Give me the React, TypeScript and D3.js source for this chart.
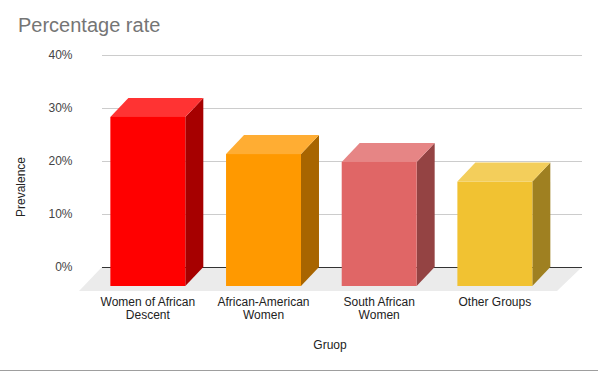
import React, { useEffect, useRef } from "react";
import * as d3 from "d3";

// chart data
const groups = [
  "Women of African Descent",
  "African-American Women",
  "South African Women",
  "Other Groups",
];
const groupLines = [
  ["Women of African", "Descent"],
  ["African-American", "Women"],
  ["South African", "Women"],
  ["Other Groups"],
];
const prevalence = [31.9, 24.9, 23.4, 19.7];
const yTicks = [0, 10, 20, 30, 40];
const frontColors = ["#ff0000", "#ff9900", "#e06666", "#f1c232"];
const topColors = ["#ff3333", "#ffad33", "#e68585", "#f3ce5b"];
const sideColors = ["#a60000", "#a86500", "#944343", "#9f8021"];

const App: React.FC = () => {
  const svgRef = useRef<SVGSVGElement>(null);

  useEffect(() => {
    const svg = d3.select(svgRef.current);
    svg.selectAll("*").remove();

    const font = "Arial, 'Liberation Sans', sans-serif";
    const wallLeft = 102;
    const wallRight = 582;
    // bar depth offset
    const dx = 18;
    const dy = 19;

    const yScale = d3.scaleLinear().domain([0, 40]).range([267, 55]);
    const xScale = d3
      .scaleBand<string>()
      .domain(groups)
      .range([90, 552.7])
      .paddingInner(0.352)
      .paddingOuter(0.176);

    // title
    svg
      .append("text")
      .attr("x", 18)
      .attr("y", 32)
      .attr("font-family", font)
      .attr("font-size", 20)
      .attr("fill", "#757575")
      .text("Percentage rate");

    // gridlines
    svg
      .selectAll(".grid")
      .data(yTicks.filter((t) => t > 0))
      .enter()
      .append("line")
      .attr("x1", wallLeft)
      .attr("x2", wallRight)
      .attr("y1", (d) => yScale(d) + 0.5)
      .attr("y2", (d) => yScale(d) + 0.5)
      .attr("stroke", "#cccccc")
      .attr("stroke-width", 1);

    // floor
    const y0 = yScale(0);
    svg
      .append("polygon")
      .attr(
        "points",
        [
          [wallLeft, y0],
          [wallRight, y0],
          [wallRight - 25, y0 + 24],
          [wallLeft - 23, y0 + 24],
        ]
          .map((p) => p.join(","))
          .join(" ")
      )
      .attr("fill", "#ebebeb");

    // base line
    svg
      .append("line")
      .attr("x1", wallLeft)
      .attr("x2", wallRight)
      .attr("y1", y0 + 0.5)
      .attr("y2", y0 + 0.5)
      .attr("stroke", "#333333")
      .attr("stroke-width", 1);

    // y labels
    svg
      .selectAll(".ylab")
      .data(yTicks)
      .enter()
      .append("text")
      .attr("x", 72.5)
      .attr("y", (d) => yScale(d) + 4)
      .attr("text-anchor", "end")
      .attr("font-family", font)
      .attr("font-size", 12)
      .attr("fill", "#444444")
      .text((d) => d + "%");

    // y title
    svg
      .append("text")
      .attr("transform", "translate(25,187) rotate(-90)")
      .attr("text-anchor", "middle")
      .attr("font-family", font)
      .attr("font-size", 12)
      .attr("fill", "#222222")
      .text("Prevalence");

    // bars
    const bw = xScale.bandwidth();
    groups.forEach((g, i) => {
      const x0 = xScale(g) as number;
      const x1 = x0 + bw;
      const yTop = yScale(prevalence[i]) + dy;
      const yBot = y0 + dy;
      const pts = (arr: number[][]) => arr.map((p) => p.join(",")).join(" ");

      svg
        .append("polygon")
        .attr(
          "points",
          pts([
            [x1, yTop],
            [x1 + dx, yTop - dy],
            [x1 + dx, yBot - dy],
            [x1, yBot],
          ])
        )
        .attr("fill", sideColors[i]);

      svg
        .append("polygon")
        .attr(
          "points",
          pts([
            [x0, yTop],
            [x0 + dx, yTop - dy],
            [x1 + dx, yTop - dy],
            [x1, yTop],
          ])
        )
        .attr("fill", topColors[i]);

      svg
        .append("rect")
        .attr("x", x0)
        .attr("y", yTop)
        .attr("width", bw)
        .attr("height", yBot - yTop)
        .attr("fill", frontColors[i]);

      // category label
      const label = svg
        .append("text")
        .attr("text-anchor", "middle")
        .attr("font-family", font)
        .attr("font-size", 12)
        .attr("fill", "#222222");
      groupLines[i].forEach((line, j) => {
        label
          .append("tspan")
          .attr("x", x0 + bw / 2)
          .attr("y", 305.5 + j * 13)
          .text(line);
      });
    });

    // x title
    svg
      .append("text")
      .attr("x", 330)
      .attr("y", 349)
      .attr("text-anchor", "middle")
      .attr("font-family", font)
      .attr("font-size", 12)
      .attr("fill", "#222222")
      .text("Gruop");

    // bottom border
    svg
      .append("line")
      .attr("x1", 0)
      .attr("x2", 598)
      .attr("y1", 370.5)
      .attr("y2", 370.5)
      .attr("stroke", "#9e9e9e")
      .attr("stroke-width", 1);

    return () => {
      svg.selectAll("*").remove();
    };
  }, []);

  return (
    <svg
      ref={svgRef}
      width="598"
      height="371"
      style={{ position: "absolute", left: 0, top: 0, background: "#ffffff" }}
    />
  );
};

export default App;
